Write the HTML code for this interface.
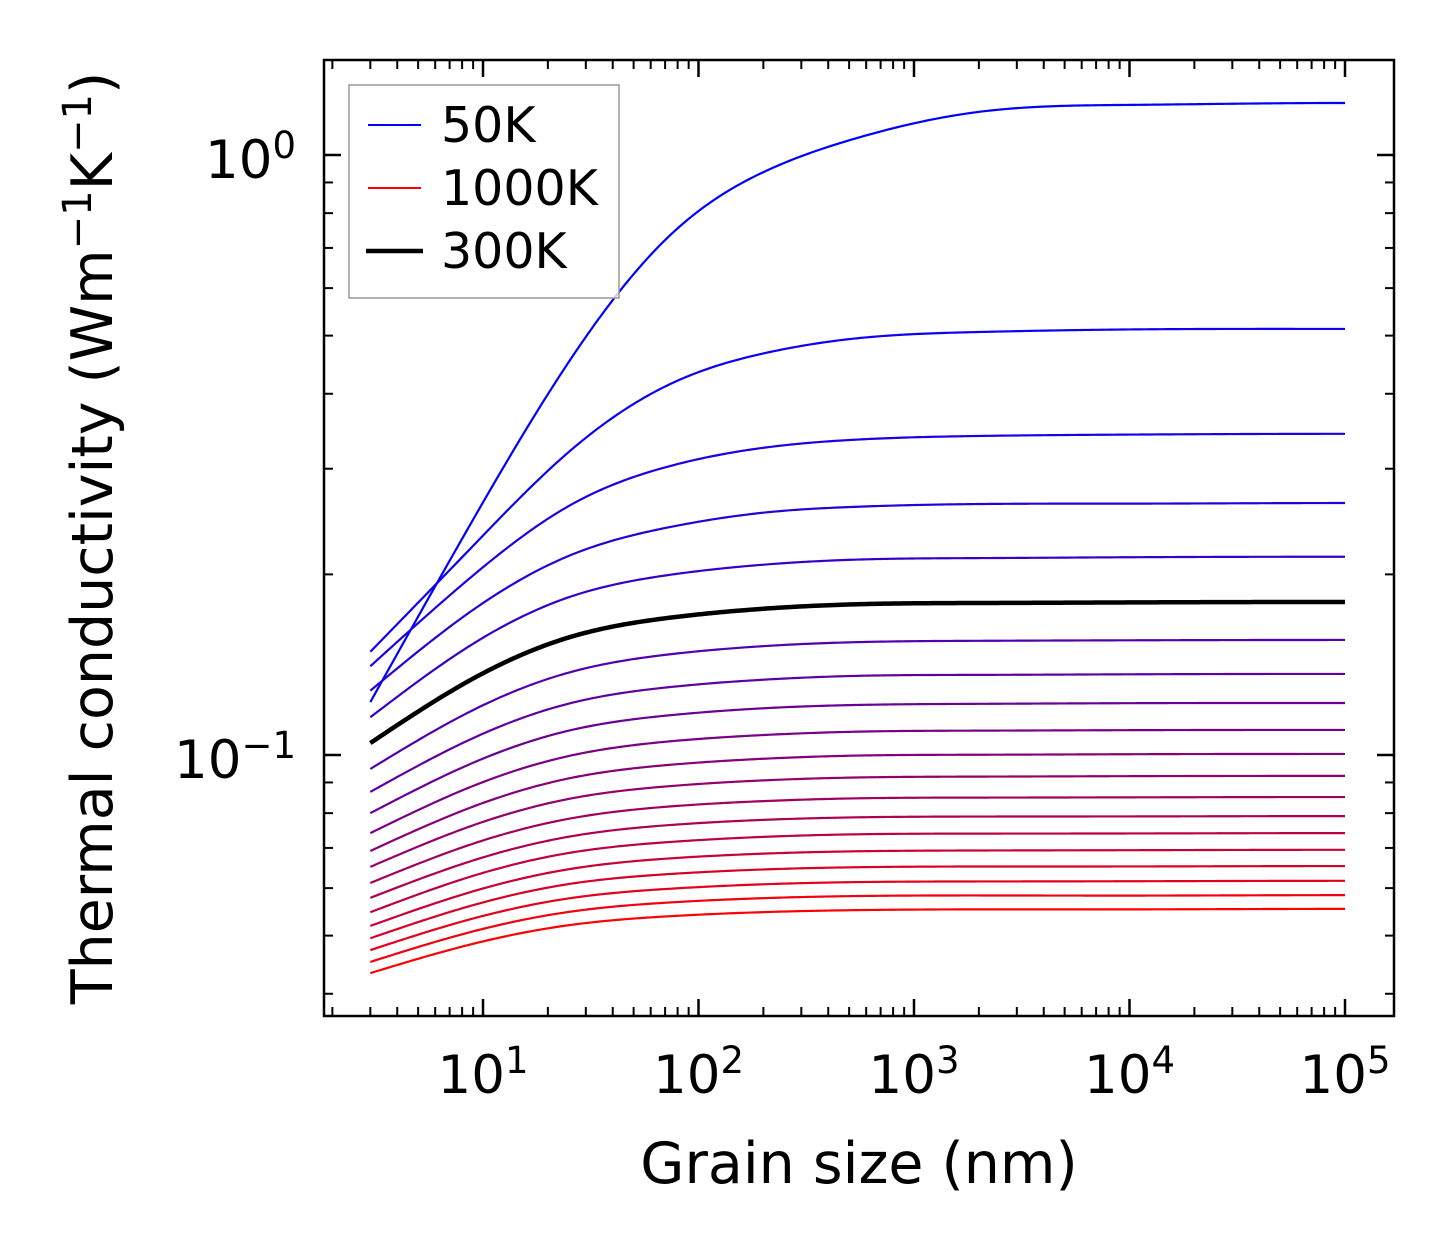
<!DOCTYPE html>
<html><head><meta charset="utf-8"><style>
html,body{margin:0;padding:0;background:#fff;}
svg{display:block;font-family:"DejaVu Sans","Liberation Sans",sans-serif;}
</style></head><body>
<svg id="chart" width="1454" height="1254" viewBox="0 0 1454 1254" xmlns="http://www.w3.org/2000/svg">
<rect width="1454" height="1254" fill="#fff"/>
<g id="curves"></g>
<g id="ticks"></g>
<rect x="324" y="60" width="1070" height="956" fill="none" stroke="#000" stroke-width="2.5"/>
<g id="xlabels" font-size="53" text-anchor="middle"></g>
<g id="ylabels" font-size="53" text-anchor="end"></g>
<text x="859" y="1183" font-size="57" text-anchor="middle">Grain size (nm)</text>
<text transform="translate(112,538) rotate(-90)" font-size="57" text-anchor="middle">Thermal conductivity (Wm<tspan dy="-21" font-size="40">−1</tspan><tspan dy="21">K</tspan><tspan dy="-21" font-size="40">−1</tspan><tspan dy="21">)</tspan></text>
<g>
<rect x="349" y="85" width="270" height="213" fill="#fff" fill-opacity="0.8" stroke="#999" stroke-width="1.5"/>
<line x1="368" y1="125" x2="421" y2="125" stroke="#0000ff" stroke-width="2"/>
<text x="441" y="142" font-size="49">50K</text>
<line x1="368" y1="188" x2="421" y2="188" stroke="#ff0000" stroke-width="2"/>
<text x="441" y="205" font-size="49">1000K</text>
<line x1="366" y1="251" x2="423" y2="251" stroke="#000" stroke-width="4.5"/>
<text x="441" y="268" font-size="49">300K</text>
</g>
</svg>
<script>
const temperatures = [50,100,150,200,250,300,350,400,450,500,550,600,650,700,750,800,850,900,950,1000];
const grainSizes = [3, 8.7, 25, 74, 215, 505, 2000, 10000, 100000];
const k50 = [0.1225,0.2417,0.4519,0.7356,0.9477,1.059,1.180,1.212,1.221];
const k100 = [0.1486,0.2204,0.3199,0.4153,0.4696,0.4935,0.507,0.512,0.513];
const k150 = [0.1406,0.1972,0.2600,0.3032,0.3262,0.3350,0.3402,0.342,0.343];
const k200 = [0.128,0.1731,0.2147,0.2399,0.2541,0.2590,0.2620,0.2624,0.263];
const k250 = [0.1156,0.1521,0.1832,0.1997,0.2080,0.2115,0.2129,0.2136,0.214];
const k300 = [0.1047,0.1332,0.1570,0.1694,0.1756,0.1782,0.1792,0.1796,0.1799];
const k350 = [0.0948,0.1181,0.1372,0.1472,0.1521,0.1541,0.1550,0.1553,0.1555];
const k400 = [0.0868,0.1061,0.1218,0.1298,0.1337,0.1354,0.1360,0.1363,0.1365];
const k450 = [0.0800,0.09656,0.1098,0.1165,0.1198,0.1211,0.1217,0.1220,0.1221];
const k500 = [0.0741,0.08838,0.09961,0.1054,0.1081,0.1093,0.1098,0.1100,0.1101];
const k550 = [0.0692,0.08166,0.09141,0.09632,0.09869,0.09972,0.1001,0.1003,0.1004];
const k600 = [0.0651,0.07603,0.08449,0.08875,0.09082,0.09169,0.09204,0.0922,0.0923];
const k650 = [0.0612,0.07087,0.07829,0.08209,0.08387,0.08464,0.08492,0.0850,0.0851];
const k700 = [0.0578,0.06646,0.07308,0.07644,0.07804,0.07869,0.07896,0.0790,0.0791];
const k750 = [0.0547,0.06266,0.06866,0.07163,0.07311,0.07373,0.07396,0.0740,0.0741];
const k800 = [0.0519,0.05905,0.06451,0.06725,0.06855,0.06908,0.06932,0.0694,0.0695];
const k850 = [0.0495,0.05601,0.06094,0.06334,0.06451,0.06498,0.06519,0.0652,0.0653];
const k900 = [0.0473,0.05322,0.05768,0.05986,0.06094,0.06138,0.06155,0.0616,0.0617];
const k950 = [0.0452,0.05066,0.05476,0.05679,0.05778,0.05818,0.05833,0.0583,0.0584];
const k1000 = [0.0433,0.04831,0.05204,0.05387,0.05476,0.05512,0.0553,0.0553,0.0554];
const series = [k50,k100,k150,k200,k250,k300,k350,k400,k450,k500,k550,k600,k650,k700,k750,k800,k850,k900,k950,k1000];
const xTickExps = [1,2,3,4,5];
const yTickExps = ["0","−1"];
const yTickVals = [1,0.1];

const NS = "http://www.w3.org/2000/svg";
const X0 = 483, XD = 215.5, Y0 = 155, YD = 600;
function xs(L){ return X0 + (Math.log10(L) - 1) * XD; }
function ys(v){ return Y0 - Math.log10(v) * YD; }

// cubic spline: natural at left end, zero slope at right end
function spline(xa, ya){
  const n = xa.length, h = [], dd = [];
  for (let i=0;i<n-1;i++){ h.push(xa[i+1]-xa[i]); dd.push((ya[i+1]-ya[i])/h[i]); }
  const A = new Array(n).fill(0), B = new Array(n).fill(0), C = new Array(n).fill(0), R = new Array(n).fill(0);
  B[0] = 1; R[0] = 0;
  for (let i=1;i<n-1;i++){ A[i]=h[i-1]; B[i]=2*(h[i-1]+h[i]); C[i]=h[i]; R[i]=6*(dd[i]-dd[i-1]); }
  A[n-1] = h[n-2]; B[n-1] = 2*h[n-2]; R[n-1] = 6*(0 - dd[n-2]);
  const cp = new Array(n).fill(0), rp = new Array(n).fill(0);
  cp[0] = C[0]/B[0]; rp[0] = R[0]/B[0];
  for (let i=1;i<n;i++){
    const den = B[i] - A[i]*cp[i-1];
    cp[i] = C[i]/den; rp[i] = (R[i]-A[i]*rp[i-1])/den;
  }
  const M = new Array(n).fill(0);
  M[n-1] = rp[n-1];
  for (let i=n-2;i>=0;i--) M[i] = rp[i] - cp[i]*M[i+1];
  return function(x){
    let i=0; while (i<n-2 && x>xa[i+1]) i++;
    const hh=h[i], a=xa[i+1]-x, b=x-xa[i];
    return M[i]*a*a*a/(6*hh) + M[i+1]*b*b*b/(6*hh) + (ya[i]/hh - M[i]*hh/6)*a + (ya[i+1]/hh - M[i+1]*hh/6)*b;
  };
}

const cg = document.getElementById('curves');
const lx = grainSizes.map(Math.log10);
const order = series.map((_,i)=>i).filter(i=>i!==5).concat([5]);
order.forEach(i=>{
  const f = spline(lx, series[i].map(Math.log10));
  let d = "";
  const a = lx[0], b = lx[lx.length-1];
  for (let j=0;j<=300;j++){
    const l = a + (b-a)*j/300;
    const v = Math.pow(10, f(l));
    d += (j?"L":"M") + xs(Math.pow(10,l)).toFixed(2) + "," + ys(v).toFixed(2);
  }
  const p = document.createElementNS(NS,'path');
  p.setAttribute('d', d);
  p.setAttribute('fill','none');
  const r = Math.round(255*i/19), bl = 255 - r;
  p.setAttribute('stroke', i===5 ? '#000' : `rgb(${r},0,${bl})`);
  p.setAttribute('stroke-width', i===5 ? 4.5 : 2.2);
  
  
  cg.appendChild(p);
});

const tg = document.getElementById('ticks');
function tick(x1,y1,x2,y2,w,name){
  const l = document.createElementNS(NS,'line');
  l.setAttribute('x1',x1); l.setAttribute('y1',y1); l.setAttribute('x2',x2); l.setAttribute('y2',y2);
  l.setAttribute('stroke','#000'); l.setAttribute('stroke-width',w);
  
  
  tg.appendChild(l);
}
for (let e=0;e<=5;e++){
  for (let k=1;k<10;k++){
    const L = k*Math.pow(10,e), x = xs(L);
    if (x<326 || x>1392) continue;
    const len = k===1 ? 17 : 9, w = k===1 ? 2.5 : 2;
    tick(x,1016,x,1016-len,w,'x-tick');
    tick(x,60,x,60+len,w,'x-tick-top');
  }
}
for (let e=-2;e<=0;e++){
  for (let k=1;k<10;k++){
    const v = k*Math.pow(10,e), y = ys(v);
    if (y<62 || y>1014) continue;
    const len = k===1 ? 17 : 9, w = k===1 ? 2.5 : 2;
    tick(324,y,324+len,y,w,'y-tick');
    tick(1394,y,1394-len,y,w,'y-tick-right');
  }
}
const xl = document.getElementById('xlabels');
xTickExps.forEach(e=>{
  const t = document.createElementNS(NS,'text');
  t.setAttribute('x', xs(Math.pow(10,e)));
  t.setAttribute('y', 1093);
  
  
  t.innerHTML = '10<tspan dy="-20" font-size="37">' + e + '</tspan>';
  xl.appendChild(t);
});
const yl = document.getElementById('ylabels');
yTickVals.forEach((v,i)=>{
  const t = document.createElementNS(NS,'text');
  t.setAttribute('x', 296);
  t.setAttribute('y', ys(v)+23);
  
  
  t.innerHTML = '10<tspan dy="-20" font-size="37">' + yTickExps[i] + '</tspan>';
  yl.appendChild(t);
});
</script>
</body></html>
